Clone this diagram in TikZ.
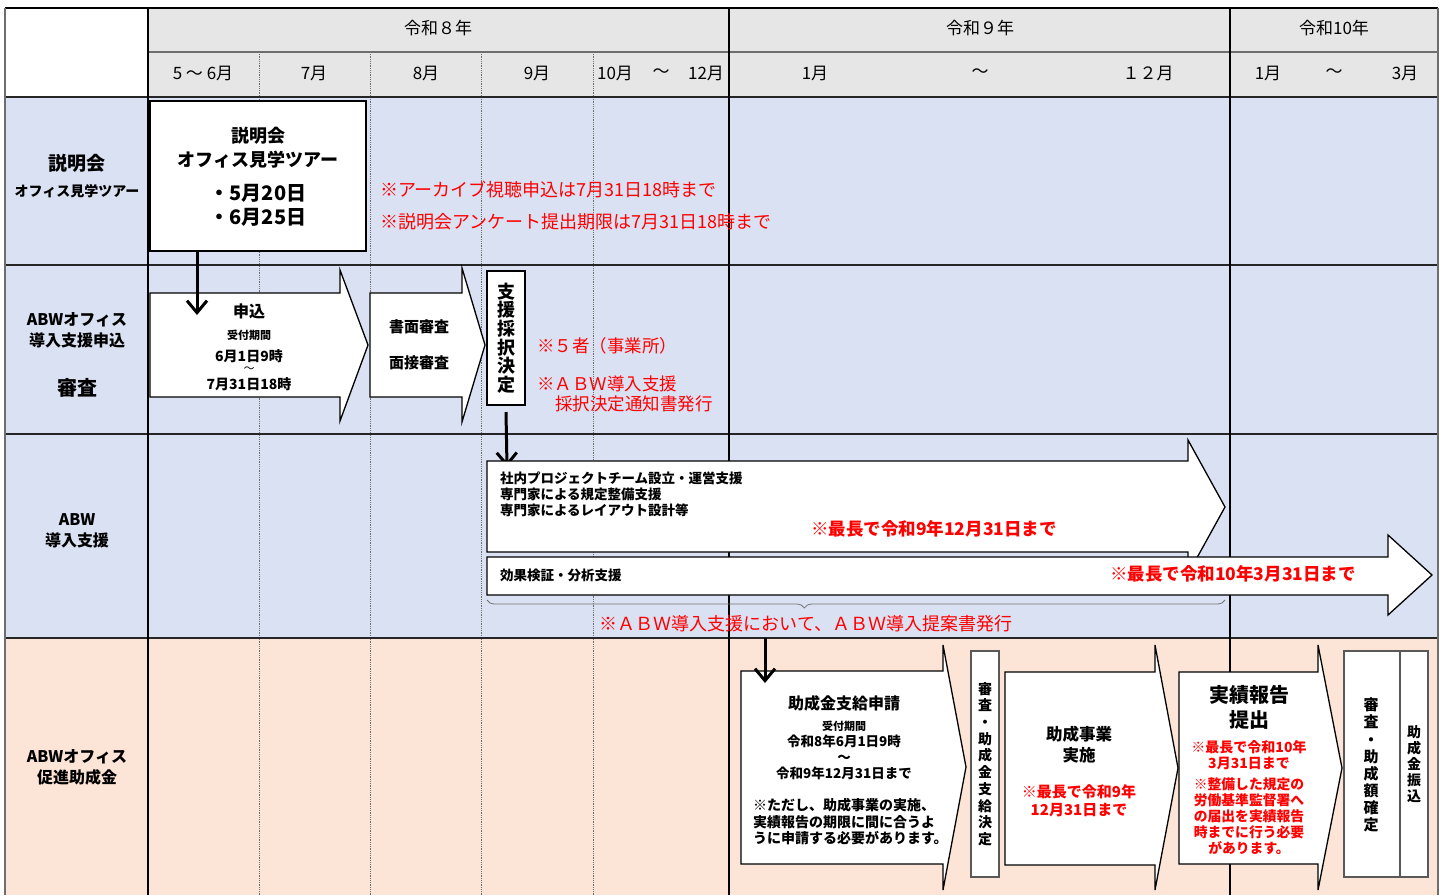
\documentclass[tikz,border=0pt]{standalone}
\usepackage{fontspec}
\setmainfont{Noto Sans CJK JP}
\usetikzlibrary{arrows.meta,decorations.pathreplacing}
\definecolor{hdr}{RGB}{231,230,230}
\definecolor{rowblue}{RGB}{218,225,242}
\definecolor{rowpink}{RGB}{252,228,214}
\definecolor{redtxt}{RGB}{255,0,0}
\definecolor{gridgray}{RGB}{110,110,110}
\newcommand\myfs[2]{\fontsize{#1}{#2}\selectfont}
\tikzset{
  blk/.style={draw=black, fill=white, line width=1.3pt, line join=miter},
  boxw/.style={draw=black, fill=white, line width=1.4pt, anchor=north west},
  boxg/.style={draw=black!65, fill=white, line width=1.3pt, anchor=north west},
  downarr/.style={line width=3pt, -{Straight Barb[length=12pt,width=20pt,line width=3pt]}},
  rowline/.style={draw=black!85, line width=1.5pt},
  yearline/.style={draw=black, line width=1.5pt},
  monthline/.style={draw=gridgray, densely dotted, line width=0.8pt},
  lbl/.style={font=\bfseries\myfs{16}{20}, align=center},
  hd/.style={font=\myfs{17}{20}},
  rnote/.style={text=redtxt, font=\myfs{18}{20}, anchor=west},
  rbold/.style={text=redtxt, font=\bfseries\myfs{17.5}{19}},
}
\begin{document}
\begin{tikzpicture}[x=1pt,y=-1pt, every node/.style={inner sep=0pt, outer sep=0pt}]
\useasboundingbox (0,0) rectangle (1443,895);
% backgrounds
\fill[white] (0,0) rectangle (1443,895);
\fill[hdr] (148,8) rectangle (1438,97);
\fill[rowblue] (5,97) rectangle (1438,638);
\fill[rowpink] (5,638) rectangle (1438,895);
% month dotted lines
\foreach \x in {259,370,481,593} \draw[monthline] (\x,52) -- (\x,895);
% horizontal lines
\draw[yearline] (5,8) -- (1438,8);
\draw[draw=gridgray, line width=1.2pt] (148,52) -- (1438,52);
\foreach \y in {97,265,434,638} \draw[rowline] (5,\y) -- (1438,\y);
% vertical lines
\draw[draw=gridgray, line width=1.2pt] (5,8) -- (5,895);
\draw[draw=gridgray, line width=1.2pt] (1438,8) -- (1438,895);
\foreach \x in {148,729,1230} \draw[yearline] (\x,8) -- (\x,895);

% header text
\node[hd] (y8) at (438,28) {令和８年};
\node[hd] (y9) at (980,28) {令和９年};
\node[hd] (y10) at (1334,28) {令和10年};
\node[hd] (m56) at (203,73) {5 ～ 6月};
\node[hd] (m7) at (314,73) {7月};
\node[hd] (m8) at (426,73) {8月};
\node[hd] (m9) at (537,73) {9月};
\node[hd] (m10) at (615,73) {10月};
\node[hd] (m10t) at (661,73) {～};
\node[hd] (m12) at (706,73) {12月};
\node[hd] (n1) at (815,73) {1月};
\node[hd] (n1t) at (980,73) {～};
\node[hd] (n12) at (1148,73) {１２月};
\node[hd] (p1) at (1268,73) {1月};
\node[hd] (p1t) at (1334,73) {～};
\node[hd] (p3) at (1405,73) {3月};

% row labels
\node[lbl, font=\bfseries\myfs{19}{22}] (l1a) at (77,163) {説明会};
\node[lbl, font=\bfseries\myfs{14}{18}] (l1b) at (77,191) {オフィス見学ツアー};
\node[lbl] (l2a) at (77,330) {ABWオフィス\\[1pt]導入支援申込};
\node[lbl, font=\bfseries\myfs{20}{24}] (l2b) at (77,388) {審査};
\node[lbl] (l3) at (77,531) {ABW\\[1pt]導入支援};
\node[lbl] (l4) at (77,767) {ABWオフィス\\[1pt]促進助成金};

% ---------- row 1
\node[boxw, minimum width=216, minimum height=150] (setsu) at (150,101) {};
\node[font=\bfseries\myfs{18}{24}, align=center] (setsuT) at (258,148) {説明会\\オフィス見学ツアー};
\node[font=\bfseries\myfs{20}{24}, align=left] (setsuD) at (258,205) {・5月20日\\・6月25日};
\node[rnote] (r1a) at (380,190) {※アーカイブ視聴申込は7月31日18時まで};
\node[rnote] (r1b) at (380,222) {※説明会アンケート提出期限は7月31日18時まで};

% ---------- row 2
\draw[blk] (150,293) -- (340,293) -- (340,270) -- (368,345) -- (340,421) -- (340,397) -- (150,397) -- cycle;
\node[font=\bfseries\myfs{16}{18}] (moushi) at (249,311) {申込};
\node[font=\bfseries\myfs{11}{13}] (uke1) at (249,335) {受付期間};
\node[font=\bfseries\myfs{14}{16}] (d1a) at (249,356) {6月1日9時};
\node[font=\myfs{11}{13}] (d1t) at (249,370) {～};
\node[font=\bfseries\myfs{14}{16}] (d1b) at (249,384) {7月31日18時};
\coordinate (a1) at (197,315);
\draw[downarr] (setsu.south -| a1) -- (a1);

\draw[blk] (370,293) -- (462,293) -- (462,268) -- (485,345) -- (462,422) -- (462,397) -- (370,397) -- cycle;
\node[font=\bfseries\myfs{15}{18}] (shomen) at (419,327) {書面審査};
\node[font=\bfseries\myfs{15}{18}] (mensetsu) at (419,363) {面接審査};

\node[boxw, minimum width=38, minimum height=134] (kettei) at (487,271) {};
\node[font=\bfseries\myfs{18}{18.6}, align=center] (ketteiT) at (kettei.center) {支\\援\\採\\択\\決\\定};
\node[rnote, font=\myfs{17.5}{20}] (r2a) at (537,346) {※５者（事業所）};
\node[rnote, font=\myfs{17.5}{20}, align=left] (r2b) at (537,394) {※ＡＢＷ導入支援\\\hspace{18pt}採択決定通知書発行};

\coordinate (a2) at (507,467);
\draw[downarr] (kettei.south) ++(0,7) -- (a2);

% ---------- row 3
\draw[blk] (487,461) -- (1188,461) -- (1188,440) -- (1225,507) -- (1188,574) -- (1188,552) -- (487,552) -- cycle;
\draw[blk] (487,557) -- (1388,557) -- (1388,535) -- (1432,575) -- (1388,615) -- (1388,595) -- (487,595) -- cycle;
\node[font=\bfseries\myfs{13.5}{16}, align=left, anchor=west] (shien) at (500,494) {社内プロジェクトチーム設立・運営支援\\専門家による規定整備支援\\専門家によるレイアウト設計等};
\node[rbold] (r3a) at (934,529) {※最長で令和9年12月31日まで};
\node[font=\bfseries\myfs{13.5}{16}, anchor=west] (kouka) at (500,575) {効果検証・分析支援};
\node[rbold] (r3b) at (1233,574) {※最長で令和10年3月31日まで};
\draw[draw=black!55, line width=0.8pt, decorate, decoration={brace, mirror, amplitude=8pt, aspect=0.43}] (487,600) -- (1225,600);
\node[rnote, anchor=center] (r3c) at (806,624) {※ＡＢＷ導入支援において、ＡＢＷ導入提案書発行};

% ---------- row 4
\draw[blk] (741,671) -- (943,671) -- (943,645) -- (966,767) -- (943,890) -- (943,864) -- (741,864) -- cycle;
\node[font=\bfseries\myfs{16}{18}] (jokin) at (844,703) {助成金支給申請};
\node[font=\bfseries\myfs{11}{13}] (uke2) at (844,726) {受付期間};
\node[font=\bfseries\myfs{13.5}{16}, align=center] (d2) at (844,757) {令和8年6月1日9時\\～\\令和9年12月31日まで};
\node[font=\bfseries\myfs{14}{16.5}, align=left, anchor=west] (tadashi) at (753,822) {※ただし、助成事業の実施、\\実績報告の期限に間に合うよ\\うに申請する必要があります。};
\coordinate (a3s) at (765,638);
\coordinate (a3) at (765,683);
\draw[downarr] (a3s) -- (a3);

\node[boxg, minimum width=28, minimum height=226] (shikyu) at (971,651) {};
\node[font=\bfseries\myfs{14}{16.7}, align=center] (shikyuT) at (shikyu.center) {審\\査\\・\\助\\成\\金\\支\\給\\決\\定};

\draw[blk] (1005,672) -- (1155,672) -- (1155,645) -- (1178,768) -- (1155,890) -- (1155,865) -- (1005,865) -- cycle;
\node[font=\bfseries\myfs{16.5}{21}, align=center] (jigyo) at (1079,745) {助成事業\\実施};
\node[rbold, font=\bfseries\myfs{15}{18}, align=center] (r4a) at (1079,801) {※最長で令和9年\\12月31日まで};

\draw[blk] (1179,672) -- (1318,672) -- (1318,645) -- (1342,768) -- (1318,890) -- (1318,864) -- (1179,864) -- cycle;
\node[font=\bfseries\myfs{20}{25}, align=center] (jisseki) at (1249,707) {実績報告\\提出};
\node[rbold, font=\bfseries\myfs{14}{16.2}, align=center] (r4b) at (1249,755) {※最長で令和10年\\3月31日まで};
\node[rbold, font=\bfseries\myfs{13.8}{16}, align=center] (r4c) at (1249,816) {※整備した規定の\\労働基準監督署へ\\の届出を実績報告\\時までに行う必要\\があります。};

\node[boxg, minimum width=56, minimum height=226] (kakutei) at (1344,651) {};
\node[boxg, minimum width=28, minimum height=226] (furikomi) at (1400,651) {};
\node[font=\bfseries\myfs{15}{17.1}, align=center] (kakuteiT) at (1371,765) {審\\査\\・\\助\\成\\額\\確\\定};
\node[font=\bfseries\myfs{14}{16}, align=center] (furikomiT) at (furikomi.center) {助\\成\\金\\振\\込};
\end{tikzpicture}
\end{document}
